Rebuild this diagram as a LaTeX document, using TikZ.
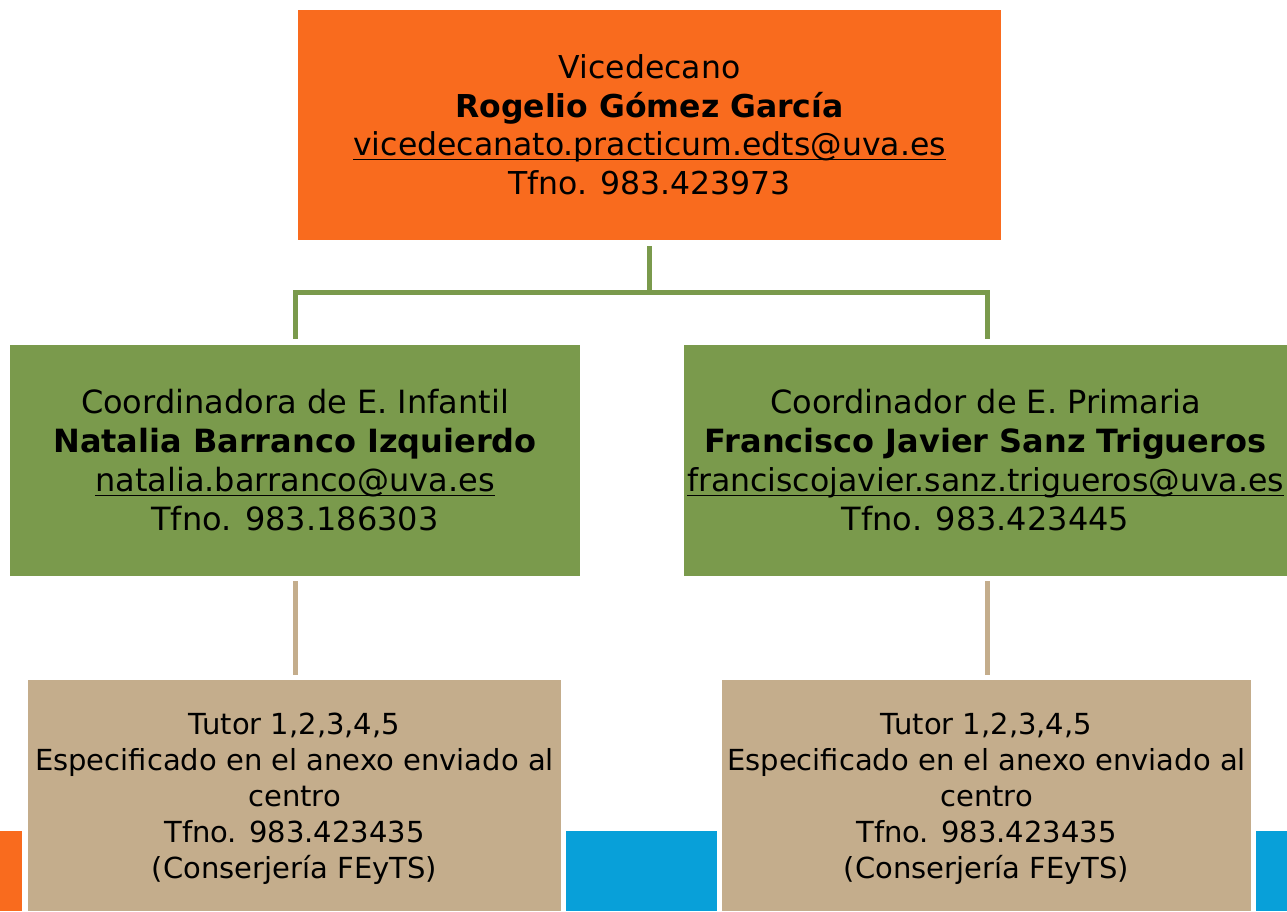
\documentclass[tikz,border=0pt]{standalone}
\usepackage{fontspec}
\setmainfont{DejaVu Sans}
\definecolor{vorange}{HTML}{F96B1E}
\definecolor{vgreen}{HTML}{7A9A4C}
\definecolor{vtan}{HTML}{C4AD8C}
\definecolor{vblue}{HTML}{08A0D9}
\newcommand\myul[1]{\setbox0\hbox{#1}\rlap{\rule[-4.5pt]{\wd0}{1.8pt}}\box0}
\begin{document}
\begin{tikzpicture}[x=1pt,y=-1pt,
  boxstyle/.style={rectangle, inner sep=0pt, align=center, text=black},
  bigtext/.style={font=\fontsize{32}{39}\selectfont},
  smalltext/.style={font=\fontsize{29}{36}\selectfont},
  greenline/.style={draw=vgreen, line width=5pt},
  tanline/.style={draw=vtan, line width=5pt}]
\useasboundingbox (0,0) rectangle (1287,911);
% decorative strips
\fill[vorange] (0,831) rectangle (22,911);
\fill[vblue] (566,831) rectangle (717,911);
\fill[vblue] (1256,831) rectangle (1287,911);
% boxes
\node[boxstyle, bigtext, font=\fontsize{31.5}{38.5}\selectfont, fill=vorange, minimum width=703pt, minimum height=230pt] (top) at (649.5,125)
  {Vicedecano\\ \textbf{Rogelio Gómez García}\\ \myul{vicedecanato.practicum.edts@uva.es}\\ Tfno. 983.423973};
\node[boxstyle, bigtext, fill=vgreen, minimum width=570pt, minimum height=231pt] (lg) at (295,460.5)
  {Coordinadora de E. Infantil\\ \textbf{Natalia Barranco Izquierdo}\\ \myul{natalia.barranco@uva.es}\\ Tfno. 983.186303};
\node[boxstyle, bigtext, fill=vgreen, minimum width=603pt, minimum height=231pt] (rg) at (985.5,460.5)
  {Coordinador de E. Primaria\\ \textbf{Francisco Javier Sanz Trigueros}\\ \resizebox{597pt}{!}{\myul{franciscojavier.sanz.trigueros@uva.es}}\\ Tfno. 983.423445};
\node[boxstyle, fill=vtan, minimum width=533pt, minimum height=231pt] (lt) at (294.5,795.5) {};
\node[boxstyle, smalltext] (ltt) at ([yshift=-3pt]lt.center)
  {Tutor 1,2,3,4,5\\ Especificado en el anexo enviado al\\ centro\\ Tfno. 983.423435\\ (Conserjería FEyTS)};
\node[boxstyle, fill=vtan, minimum width=529pt, minimum height=231pt] (rt) at (986.5,795.5) {};
\node[boxstyle, smalltext] (rtt) at ([yshift=-3pt]rt.center)
  {Tutor 1,2,3,4,5\\ Especificado en el anexo enviado al\\ centro\\ Tfno. 983.423435\\ (Conserjería FEyTS)};
% connectors
\draw[greenline] ([yshift=-6pt]top.south) -- ++(0,46) coordinate (mid);
\draw[greenline] (mid) -| ([yshift=6pt]lg.north);
\draw[greenline] (mid) -| ([yshift=6pt,xshift=1.5pt]rg.north);
\draw[tanline] ([yshift=-5pt]lg.south) -- ([yshift=5pt]lg.south |- lt.north);
\draw[tanline] ([yshift=-5pt,xshift=1.5pt]rg.south) -- ([yshift=5pt,xshift=1.5pt]rg.south |- rt.north);
\end{tikzpicture}
\end{document}
